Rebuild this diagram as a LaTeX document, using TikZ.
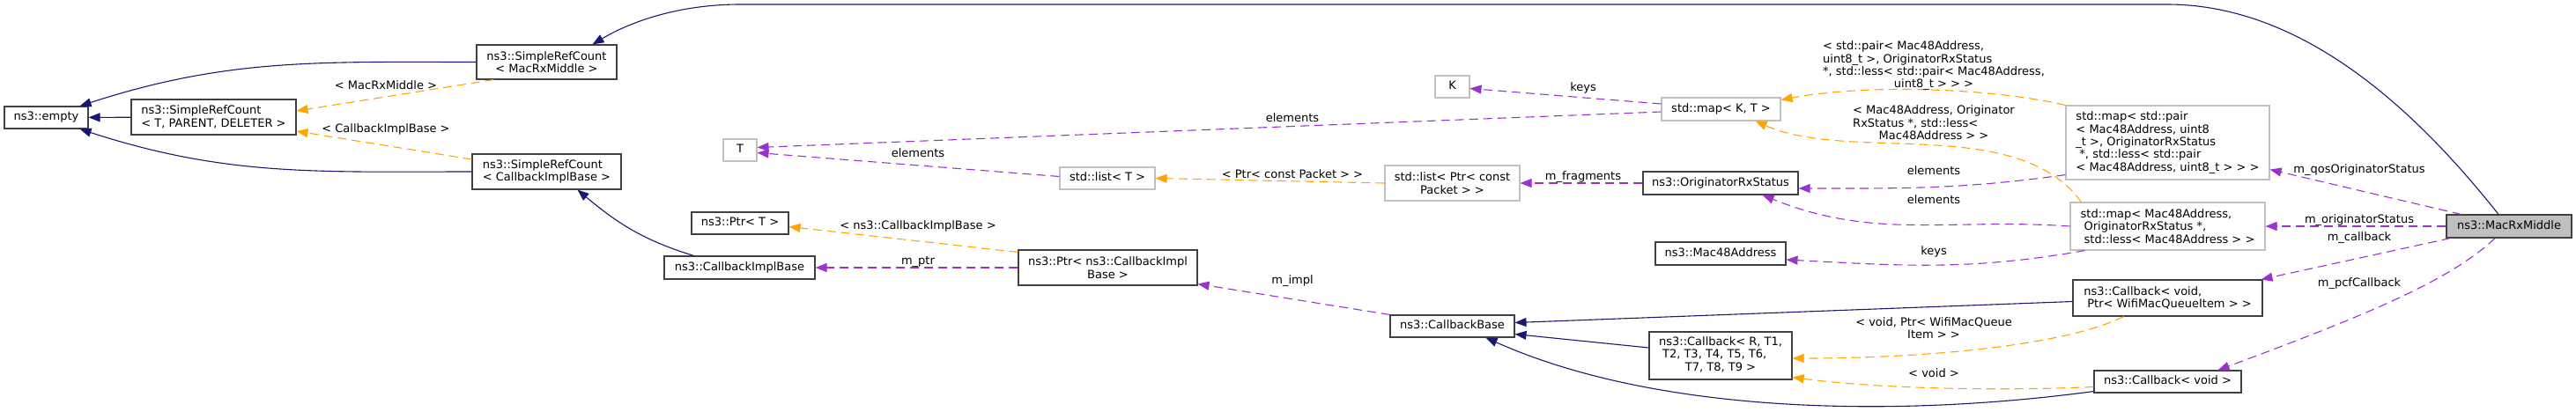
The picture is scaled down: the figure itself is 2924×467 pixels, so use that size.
\documentclass[tikz,border=0pt]{standalone}
\usepackage{fontspec}
\setmainfont{DejaVu Sans}
\usetikzlibrary{arrows.meta}

\definecolor{inhblue}{HTML}{191970}
\definecolor{tplorange}{HTML}{FFA500}
\definecolor{usepurple}{HTML}{9A32CD}
\definecolor{tplgray}{HTML}{BFBFBF}

\begin{document}
\begin{tikzpicture}[x=1pt, y=-1pt,
    every node/.style={font=\fontsize{13}{14.4}\selectfont, inner sep=0pt},
    cls/.style={draw=black!75, fill=white, line width=1.1pt},
    tpl/.style={draw=tplgray, fill=white, line width=1.1pt},
    one/.style={text height=9.5pt, text depth=3pt},
    lbl/.style={anchor=base},
    inher/.style={draw=inhblue, line width=1.1pt, -{Triangle[length=13pt,width=10pt]}},
    templ/.style={draw=tplorange, line width=1.1pt, dash pattern=on 10pt off 6pt, -{Triangle[length=13pt,width=10pt]}},
    usage/.style={draw=usepurple, line width=1.1pt, dash pattern=on 10pt off 6pt, -{Triangle[length=13pt,width=10pt]}}]
    \useasboundingbox (0,0) rectangle (2924,467);

    % Base classes on the left
    \node[cls, one, minimum width=95pt, minimum height=25pt] (empty) at (52.5,133.5) {ns3::empty};
    \node[cls, align=left, minimum width=187pt, minimum height=40pt] (srcTPD) at (242.5,133) {ns3::SimpleRefCount\\< T, PARENT, DELETER >};
    \node[cls, align=center, minimum width=159pt, minimum height=39pt] (srcMac) at (620.5,70.5) {ns3::SimpleRefCount\\< MacRxMiddle >};
    \node[cls, align=left, minimum width=169pt, minimum height=40pt] (srcCib) at (620.5,195) {ns3::SimpleRefCount\\< CallbackImplBase >};

    % Pointers and template parameters
    \node[tpl, one, minimum width=38pt, minimum height=25pt] (T) at (840,170.5) {T};
    \node[cls, one, minimum width=110pt, minimum height=25pt] (ptrT) at (840,253.5) {ns3::Ptr< T >};
    \node[cls, one, minimum width=171pt, minimum height=26pt] (cib) at (839.5,304) {ns3::CallbackImplBase};
    \node[tpl, one, minimum width=108pt, minimum height=25pt] (listT) at (1257,202.5) {std::list< T >};
    \node[cls, align=center, minimum width=203pt, minimum height=40pt] (ptrCib) at (1257.5,304) {ns3::Ptr< ns3::CallbackImpl\\Base >};

    % Containers and callback base
    \node[tpl, one, minimum width=39pt, minimum height=25pt] (K) at (1648.5,98.5) {K};
    \node[tpl, align=center, minimum width=153pt, minimum height=40pt] (listPkt) at (1648.5,208) {std::list< Ptr< const\\Packet > >};
    \node[cls, one, minimum width=141pt, minimum height=25pt] (cbBase) at (1648.5,370.5) {ns3::CallbackBase};
    \node[tpl, one, minimum width=135pt, minimum height=26pt] (mapKT) at (1953.5,124) {std::map< K, T >};
    \node[cls, one, minimum width=176pt, minimum height=26pt] (ors) at (1953,208) {ns3::OriginatorRxStatus};
    \node[cls, one, minimum width=148pt, minimum height=26pt] (mac48) at (1953,288) {ns3::Mac48Address};
    \node[cls, minimum width=162pt, minimum height=54pt] (cbR) at (1953,404) {\begin{tabular}{@{}l@{}}ns3::Callback< R, T1,\\\hspace*{4pt}T2, T3, T4, T5, T6,\\\multicolumn{1}{@{}c@{}}{T7, T8, T9 >}\end{tabular}};

    % Members of MacRxMiddle
    \node[tpl, align=left, minimum width=231pt, minimum height=84pt] (mapPair) at (2460.5,162) {std::map< std::pair\\< Mac48Address, uint8\\\_t >, OriginatorRxStatus\\\hspace*{4pt}*, std::less< std::pair\\< Mac48Address, uint8\_t > > >};
    \node[tpl, align=left, minimum width=221pt, minimum height=54pt] (mapMac) at (2460.5,257) {std::map< Mac48Address,\\\hspace*{4pt}OriginatorRxStatus *,\\\hspace*{4pt}std::less< Mac48Address > >};
    \node[cls, align=left, minimum width=215pt, minimum height=41pt] (cbVoidPtr) at (2460.5,338.5) {ns3::Callback< void,\\\hspace*{4pt}Ptr< WifiMacQueueItem > >};
    \node[cls, one, minimum width=167pt, minimum height=25pt] (cbVoid) at (2460.5,433.5) {ns3::Callback< void >};
    \node[cls, one, fill=tplgray, minimum width=142pt, minimum height=26pt] (macRx) at (2848,257) {ns3::MacRxMiddle};

    % Inheritance
    \draw[inher] (srcTPD) -- (empty);
    \draw[inher] (srcMac.west) to[out=180, in=18] ([xshift=-10pt]empty.north east);
    \draw[inher] (srcCib.west) to[out=180, in=-18] ([xshift=-10pt]empty.south east);
    \draw[inher] ([xshift=-52pt]cib.north) to[out=163, in=-40] ([xshift=35pt]srcCib.south);
    \coordinate (topR) at (2460,5);
    \coordinate (topL) at (840,5);
    \draw[inher] ([xshift=-12pt]macRx.north) .. controls (2750,135) and (2620,5) .. (topR) -- (topL) .. controls (770,5) and (715,25) .. ([xshift=52pt]srcMac.north);
    \draw[inher] ([yshift=-4pt]cbVoidPtr.west) -- ([yshift=4pt]cbBase.east);
    \draw[inher] ([yshift=9pt]cbR.west) -- ([yshift=4pt]cbBase.south east);
    \draw[inher] ([yshift=2pt]cbVoid.south west) .. controls (2150,475) and (1880,470) .. ([xshift=38pt]cbBase.south);

    % Template instances
    \draw[templ] ([xshift=20pt]srcMac.south west) -- ([yshift=7pt]srcTPD.east);
    \draw[templ] ([yshift=14pt]srcCib.west) -- ([yshift=-16pt]srcTPD.east);
    \draw[templ] ([yshift=-3pt]ptrCib.north west) -- ([yshift=-4pt]ptrT.east);
    \draw[templ] (listPkt.west) -- (listT.east);
    \draw[templ] (mapPair.north west) .. controls (2260,100) and (2120,95) .. ([yshift=-3pt]mapKT.north east);
    \draw[templ] ([xshift=13pt]mapMac.north west) .. controls (2290,130) and (2100,185) .. ([xshift=-29pt]mapKT.south east);
    \draw[templ] ([xshift=-50pt]cbVoidPtr.south) .. controls (2350,390) and (2200,407) .. ([yshift=-3pt]cbR.east);
    \draw[templ] ([yshift=-6pt]cbVoid.west) .. controls (2250,445) and (2120,440) .. ([yshift=3pt]cbR.south east);

    % Members
    \draw[usage] (ptrCib.west) -- (cib.east);
    \draw[usage] (cbBase.north west) -- ([yshift=2pt]ptrCib.south east);
    \draw[usage] ([yshift=-3pt]mapKT.west) -- ([yshift=3pt]T.east);
    \draw[usage] ([yshift=2pt]listT.west) -- ([yshift=-3pt]T.east);
    \draw[usage] ([yshift=6pt]mapKT.west) -- ([yshift=-2pt]K.east);
    \draw[usage] (ors.west) -- (listPkt.east);
    \draw[usage] ([yshift=6pt]mapPair.south west) to[out=188, in=0] ([yshift=-6pt]ors.east);
    \draw[usage] (mapMac.west) to[out=176, in=-22] ([xshift=-41pt]ors.south east);
    \draw[usage] ([xshift=17pt]mapMac.south west) to[out=190, in=-3] ([yshift=-7pt]mac48.east);
    \draw[usage] ([xshift=17pt]macRx.north west) -- ([yshift=12pt]mapPair.south east);
    \draw[usage] (macRx.west) -- (mapMac.east);
    \draw[usage] ([xshift=5pt]macRx.south west) -- ([xshift=-2pt]cbVoidPtr.north east);
    \draw[usage] ([xshift=-16pt]macRx.south) .. controls (2780,320) and (2680,360) .. ([xshift=-27pt]cbVoid.north east);

    % Edge labels
    \node[lbl] (lMacRx) at (438,101) {< MacRxMiddle >};
    \node[lbl] (lCib) at (438,150) {< CallbackImplBase >};
    \node[lbl] (lCibPtr) at (1042,260) {< ns3::CallbackImplBase >};
    \node[lbl] (lPtr) at (1042,300) {m\_ptr};
    \node[lbl] (lImpl) at (1467,322) {m\_impl};
    \node[lbl] (lElemList) at (1042,178) {elements};
    \node[lbl] (lElemMap) at (1467,138) {elements};
    \node[lbl] (lPkt) at (1467,202) {< Ptr< const Packet > >};
    \node[lbl] (lKeysK) at (1797,103) {keys};
    \node[lbl] (lFrag) at (1797,204) {m\_fragments};
    \node (lPair) at (2195,75.5) {\begin{tabular}{@{}l@{}}< std::pair< Mac48Address,\\uint8\_t >, OriginatorRxStatus\\{}*, std::less< std::pair< Mac48Address,\\\multicolumn{1}{@{}c@{}}{uint8\_t > > >}\end{tabular}};
    \node (lMacOrs) at (2195,141.5) {\begin{tabular}{@{}l@{}}\multicolumn{1}{@{}c@{}}{< Mac48Address, Originator}\\RxStatus *, std::less<\\\multicolumn{1}{@{}c@{}}{Mac48Address > >}\end{tabular}};
    \node[lbl] (lElemPair) at (2195,198) {elements};
    \node[lbl] (lElemMac) at (2195,231) {elements};
    \node[lbl] (lKeysMac) at (2195,289) {keys};
    \node[align=center] (lVoidPtr) at (2195,372.5) {< void, Ptr< WifiMacQueue\\Item > >};
    \node[lbl] (lVoid) at (2195,428) {< void >};
    \node[lbl] (lQos) at (2678,196) {m\_qosOriginatorStatus};
    \node[lbl] (lOrig) at (2678,253) {m\_originatorStatus};
    \node[lbl] (lCb) at (2678,273) {m\_callback};
    \node[lbl] (lPcf) at (2678,325) {m\_pcfCallback};
\end{tikzpicture}
\end{document}
